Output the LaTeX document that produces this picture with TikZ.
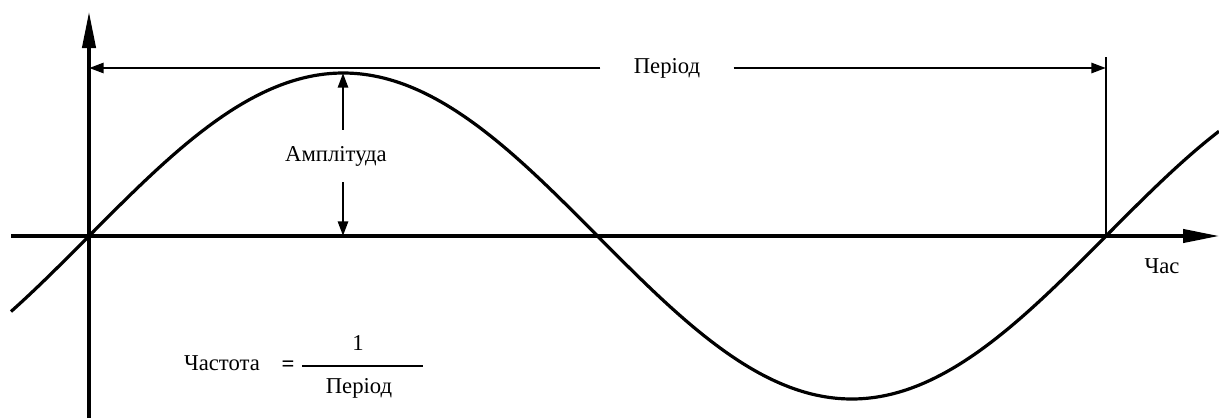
\documentclass[tikz,border=0pt]{standalone}
\usepackage{fontspec}
\setmainfont{Liberation Serif}
\usetikzlibrary{arrows.meta,calc,positioning}
\tikzset{
  axisline/.style={line width=2.3pt,-{Triangle[length=27pt,width=10pt]}},
  dimline/.style={line width=2.1pt,-{Triangle[length=11pt,width=7.5pt]}},
  wave/.style={line width=2.4pt,line join=round},
  lbl/.style={inner sep=0pt,font=\fontsize{17}{20}\selectfont}
}
\newcommand{\sinewave}[4]{% x from, x to, zero, period
  \draw[wave] plot[domain=#1:#2,samples=240,smooth]
    (\x,{236-163*sin((\x-#3)/#4*360)});
}

\begin{document}
\begin{tikzpicture}[x=0.75pt,y=-0.75pt]
  \useasboundingbox (0,0) rectangle (1219,418);
  % axes
  \coordinate (origin) at (89,236);
  \coordinate (xstart) at (11,236);
  \coordinate (xend) at (1219,236);
  \coordinate (ybottom) at (89,418);
  \coordinate (ytop) at (89,12);
  \draw[axisline] (xstart) -- (xend);
  \draw[axisline] (ybottom) -- (ytop);
  \sinewave{11}{1219}{89}{1017}
  % period
  \coordinate (pleft) at (89,68);
  \coordinate (pright) at (1106,68);
  \coordinate (ptop) at (1106,57);
  \coordinate (pzero) at (1106,236);
  \draw[line width=2.1pt] (ptop) -- (pzero);
  \node[lbl,inner xsep=25pt] (period) at (667,68) {Період};
  \draw[dimline] (period.west) -- (pleft);
  \draw[dimline] (period.east) -- (pright);
  % amplitude
  \coordinate (peak) at (343,73);
  \coordinate (base) at (343,236);
  \node[lbl,inner ysep=12pt] (amp) at (336,156) {Амплітуда};
  \draw[dimline] (amp.north -| peak) -- (peak);
  \draw[dimline] (amp.south -| base) -- (base);
  \node[lbl] (time) at (1162,266) {Час};
  % frequency
  \node[lbl] (freq) at (222,363) {Частота};
  \node[lbl,font=\fontsize{17}{20}\selectfont\bfseries] (eq) at (288,366) {=};
  \coordinate (fl) at (302,366);
  \coordinate (fr) at (423,366);
  \draw[line width=2.1pt] (fl) -- (fr);
  \node[lbl] (num) at (358,343) {1};
  \node[lbl] (den) at (359,388) {Період};
\end{tikzpicture}
\end{document}
